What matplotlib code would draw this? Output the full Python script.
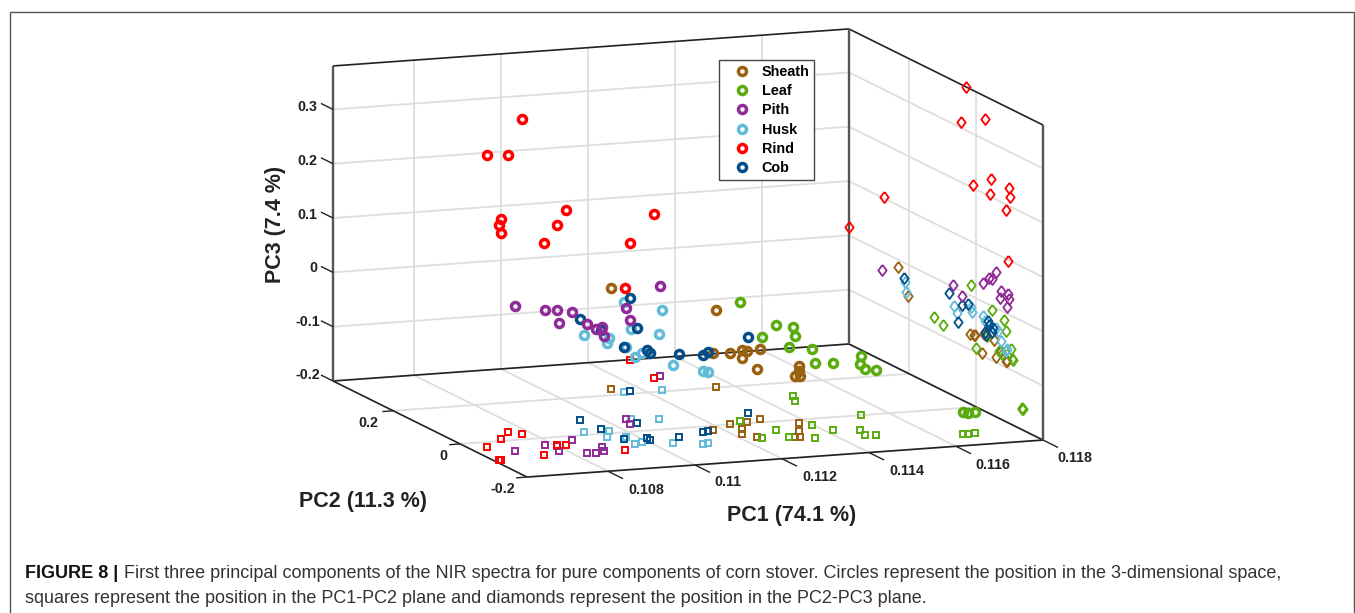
#!/usr/bin/env python3
"""First three principal components of NIR spectra, corn stover (Figure 8)."""
import matplotlib
matplotlib.use("Agg")
import matplotlib.pyplot as plt
from matplotlib.lines import Line2D
from matplotlib.patches import Rectangle
from mpl_toolkits.mplot3d import proj3d

W, H = 1355, 613
plt.rcParams["font.family"] = ["Liberation Sans", "DejaVu Sans"]

# ---- values ----
sheath_pc1 = [.1114, .11358, .11178, .11237, .11241, .11279, .1122, .11317, .11238, .11379, .11347, .11314, .11324]
sheath_pc2 = [.2326, .2034, -.0224, .0029, -.0281, .007, -.0545, .0179, -.0759, -.0179, -.0602, -.0903, -.0922]
sheath_pc3 = [-.014, -.0582, -.0582, -.0692, -.0545, -.0692, -.06, -.0711, -.0748, -.095, -.0895, -.0877, -.0877]

leaf_pc1 = [.11269, .11305, .11477, .11244, .1146, .11302, .11397, .1135, .11419, .11536, .11474, .11463, .11485, .11663, .11673, .11692]
leaf_pc2 = [.0149, -.0462, .1267, -.0831, .0997, -.088, -.0334, -.1032, -.0678, .0008, -.078, -.1063, -.1105, -.1381, -.14, -.1373]
leaf_pc3 = [.0192, -.0066, -.0729, -.014, -.0803, -.0343, -.06, -.0619, -.0766, -.0913, -.0785, -.0785, -.0803, -.1595, -.1613, -.1613]

pith_pc1 = [.10695, .1078, .108, .10854, .10783, .10831, .1085, .10887, .10874, .11048, .11036, .11291]
pith_pc2 = [-.0583, -.0379, -.0478, -.0218, -.0749, -.0961, -.0995, -.0701, -.0919, .0686, .0407, .2827]
pith_pc3 = [.067, .0486, .0505, .0357, .0357, .0376, .0284, .021, .0118, .0044, -.0085, -.0343]

husk_pc1 = [.11154, .11238, .11058, .10911, .10966, .10937, .11114, .10975, .10987, .10965, .11045, .11101, .11115]
husk_pc2 = [.2118, .208, .0667, .0159, .0117, -.0192, .0562, -.0264, -.0588, -.0668, -.0758, -.0925, -.0891]
husk_pc3 = [-.0343, -.0527, -.0343, -.0214, -.0287, -.0269, -.0435, -.0343, -.0361, -.0398, -.0564, -.0656, -.0692]

rind_pc1 = [.10778, .10655, .10759, .10822, .11271, .10716, .10627, .10631, .10804, .10737, .11296, .10921]
rind_pc2 = [.0288, -.0266, .0447, -.0459, .2743, .0103, -.0997, -.1005, -.0425, -.0903, .38, -.0946]
rind_pc3 = [.38, .338, .31, .2328, .102, .205, .2328, .218, .205, .19, .0155, .0983]

cob_pc1 = [.1117, .10951, .11054, .10963, .11013, .11011, .11081, .1115, .11164, .11318, .10958]
cob_pc2 = [.2148, .0807, .0434, -.0362, -.0396, -.0513, -.0464, -.0291, -.0258, .0541, .0253]
cob_pc3 = [-.0287, -.014, -.025, -.0306, -.0379, -.0398, -.0471, -.0582, -.0545, -.06, -.0177]

pc1_ticks = [.108, .11, .112, .114, .116, .118]
pc2_ticks = [-.2, 0, .2]
pc3_ticks = [-.2, -.1, 0, .1, .2, .3]
pc1_labels = ["0.108", "0.11", "0.112", "0.114", "0.116", "0.118"]
pc2_labels = ["-0.2", "0", "0.2"]
pc3_labels = ["-0.2", "-0.1", "0", "0.1", "0.2", "0.3"]

XMIN, XMAX = .10614, .118
YMIN, YMAX = -.2, .38
ZMIN, ZMAX = -.2, .38

GRID, EDGE, WALL = "#dedede", "#222222", "#555555"
DIAMOND = [(0, 1), (.75, 0), (0, -1), (-.75, 0), (0, 1)]
groups = {
    "Sheath": (sheath_pc1, sheath_pc2, sheath_pc3, "#99600f"),
    "Leaf": (leaf_pc1, leaf_pc2, leaf_pc3, "#5aac0e"),
    "Pith": (pith_pc1, pith_pc2, pith_pc3, "#8f2a97"),
    "Husk": (husk_pc1, husk_pc2, husk_pc3, "#62bcd8"),
    "Rind": (rind_pc1, rind_pc2, rind_pc3, "#ff0000"),
    "Cob": (cob_pc1, cob_pc2, cob_pc3, "#034e8a"),
}
draw_order = ["Sheath", "Leaf", "Husk", "Cob", "Pith", "Rind"]

fig = plt.figure(figsize=(W / 100, H / 100), dpi=100)
ax = fig.add_axes([.2, .1, 600 / W, 600 / H], projection="3d", computed_zorder=False)
ax.set_proj_type("ortho")
ax.view_init(elev=10.86, azim=-110.84)
ax.set_box_aspect((551.9, 545.3, 320.7))
ax.set_xlim(XMIN, XMAX)
ax.set_ylim(YMIN, YMAX)
ax.set_zlim(ZMIN, ZMAX)
ax.set_axis_off()


def seg(p, q, color, lw, z=1):
    ax.plot([p[0], q[0]], [p[1], q[1]], [p[2], q[2]], color=color, lw=lw, zorder=z, solid_capstyle="butt")


# grids on the floor and the two back walls
for x in pc1_ticks:
    seg((x, YMIN, ZMIN), (x, YMAX, ZMIN), GRID, 1.3)
    seg((x, YMAX, ZMIN), (x, YMAX, ZMAX), GRID, 1.3)
for y in pc2_ticks:
    seg((XMIN, y, ZMIN), (XMAX, y, ZMIN), GRID, 1.3)
    seg((XMAX, y, ZMIN), (XMAX, y, ZMAX), GRID, 1.3)
for z in pc3_ticks:
    seg((XMIN, YMAX, z), (XMAX, YMAX, z), GRID, 1.3)
    seg((XMAX, YMIN, z), (XMAX, YMAX, z), GRID, 1.3)

# box edges
for p, q in [((XMIN, YMIN, ZMIN), (XMAX, YMIN, ZMIN)), ((XMIN, YMIN, ZMIN), (XMIN, YMAX, ZMIN)),
             ((XMIN, YMAX, ZMIN), (XMAX, YMAX, ZMIN)), ((XMAX, YMIN, ZMIN), (XMAX, YMAX, ZMIN)),
             ((XMIN, YMAX, ZMAX), (XMAX, YMAX, ZMAX)), ((XMAX, YMIN, ZMAX), (XMAX, YMAX, ZMAX))]:
    seg(p, q, EDGE, 1.2, 2)
for p, q in [((XMIN, YMAX, ZMIN), (XMIN, YMAX, ZMAX)), ((XMAX, YMAX, ZMIN), (XMAX, YMAX, ZMAX)),
             ((XMAX, YMIN, ZMIN), (XMAX, YMIN, ZMAX))]:
    seg(p, q, WALL, 1.7, 2)

# ticks stick out of the outer edges
for x in pc1_ticks:
    seg((x, YMIN, ZMIN), (x, YMIN - .045, ZMIN), EDGE, 1.0, 2)
for y in pc2_ticks:
    seg((XMIN, y, ZMIN), (XMIN - .00025, y, ZMIN), EDGE, 1.0, 2)
for z in pc3_ticks:
    seg((XMIN, YMAX, z), (XMIN, YMAX + .036, z), EDGE, 1.0, 2)

for name in draw_order:
    pc1, pc2, pc3, color = groups[name]
    ax.plot(pc1, pc2, [ZMIN] * len(pc1), ls="none", marker="s", ms=4.2, mfc="none", mec=color, mew=1.4, zorder=3)
    ax.plot([XMAX] * len(pc1), pc2, pc3, ls="none", marker=DIAMOND, ms=8, mfc="none", mec=color, mew=1.3, zorder=3)
for name in draw_order:
    pc1, pc2, pc3, color = groups[name]
    ax.plot(pc1, pc2, pc3, ls="none", marker="o", ms=5.8, mfc="none", mec=color, mew=2.5, zorder=4)


# fit the square 3D axes so that the box corners land where the reference has them
def corner_px(x, y, z):
    X, Y, _ = proj3d.proj_transform(x, y, z, ax.get_proj())
    return ax.transData.transform((X, Y))


fig.canvas.draw()
a = corner_px(XMIN, YMAX, ZMIN)
b = corner_px(XMAX, YMIN, ZMIN)
k = 710 / (b[0] - a[0])
side = 600 * k
ax.set_position([.2, .1, side / W, side / H])
fig.canvas.draw()
a = corner_px(XMIN, YMAX, ZMIN)
shift_x, shift_y = 333 - a[0], (H - 381) - a[1]
ax.set_position([.2 + shift_x / W, .1 + shift_y / H, side / W, side / H])


def label_px(x, y, s, **kw):
    kw.setdefault("ha", "center")
    kw.setdefault("va", "center")
    return fig.text(x / W, 1 - y / H, s, **kw)


pc1_label_xy = [(646, 490), (728, 482), (820, 477), (907, 471), (993, 465), (1075, 458)]
pc2_label_xy = [(503, 489), (443, 456), (368, 423)]
pc3_label_xy = [(308, 375), (308, 322), (313, 268), (307, 215), (307, 161), (307, 107)]
for s, (x, y) in zip(pc1_labels, pc1_label_xy):
    label_px(x, y, s, fontsize=10.3, fontweight="bold", color="#222222")
for s, (x, y) in zip(pc2_labels, pc2_label_xy):
    label_px(x, y, s, fontsize=10.3, fontweight="bold", color="#222222")
for s, (x, y) in zip(pc3_labels, pc3_label_xy):
    label_px(x, y, s, fontsize=10.3, fontweight="bold", color="#222222")
label_px(792, 515, "PC1 (74.1 %)", fontsize=15.5, fontweight="bold", color="#222222")
label_px(363, 501, "PC2 (11.3 %)", fontsize=15.5, fontweight="bold", color="#222222")
label_px(276, 224, "PC3 (7.4 %)", fontsize=15.5, fontweight="bold", color="#222222", rotation=90)

handles = [Line2D([], [], ls="none", marker="o", ms=5.8, mfc="none", mec=v[3], mew=2.5) for v in groups.values()]
fig.legend(handles, list(groups), loc="upper left", bbox_to_anchor=(719 / W, 1 - 60 / H), borderaxespad=0,
           fancybox=False, framealpha=1, edgecolor="#444444", handlelength=2.5, handletextpad=.13,
           labelspacing=.37, borderpad=.32, prop={"weight": "bold", "size": 10.4})

# outer frame and caption
fig.add_artist(Rectangle((9.5 / W, 1 - 640 / H), 1344.5 / W, 628.5 / H, transform=fig.transFigure,
                         fill=False, ec="#555555", lw=1))
renderer = fig.canvas.get_renderer()
bold = label_px(25, 578, "FIGURE 8 |", ha="left", va="baseline", fontsize=13, fontweight="bold", color="#111111")
x_end = bold.get_window_extent(renderer).x1
label_px(x_end + 6, 578, "First three principal components of the NIR spectra for pure components of corn stover. "
         "Circles represent the position in the 3-dimensional space,",
         ha="left", va="baseline", fontsize=13, color="#333333")
label_px(25, 603, "squares represent the position in the PC1-PC2 plane and diamonds represent the position in the PC2-PC3 plane.",
         ha="left", va="baseline", fontsize=13, color="#333333")

fig.savefig("out.png", dpi=100)
